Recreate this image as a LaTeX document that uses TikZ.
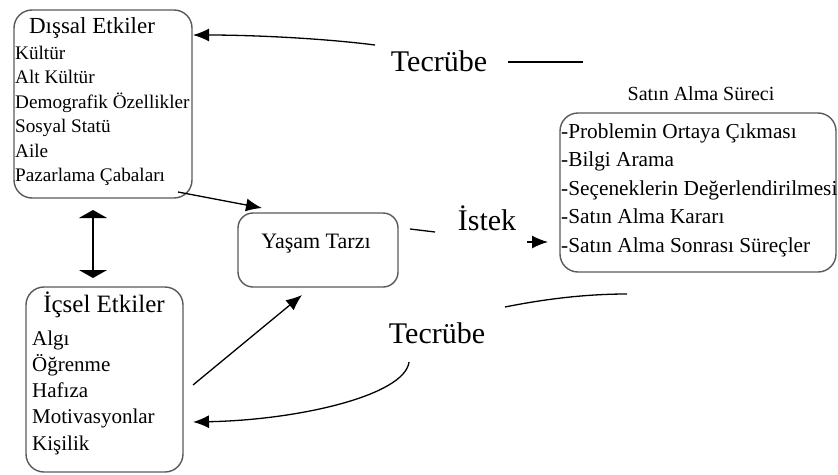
\documentclass[tikz,border=0pt]{standalone}
\usepackage{fontspec}
\setmainfont{Liberation Serif}
\usetikzlibrary{arrows.meta}
\begin{document}
\begin{tikzpicture}[x=1pt,y=-1pt,
 box/.style={draw=black!65, line width=1.4pt, rounded corners=18pt, inner sep=0pt},
 lbl/.style={anchor=base west, inner sep=0pt},
 ttl/.style={anchor=base, inner sep=0pt},
 conn/.style={line width=1.3pt, -{Latex[length=16pt,width=13pt]}},
 plain/.style={line width=1.3pt},
 dbl/.style={line width=1.6pt, {Triangle[width=28pt,length=8pt]}-{Triangle[width=28pt,length=8pt]}}]
\useasboundingbox (0,0) rectangle (838,474);
% boxes
\node[box, minimum width=178pt, minimum height=188pt] (dis) at (103,104) {};
\node[box, minimum width=157pt, minimum height=185pt] (ic) at (104.5,379.5) {};
\node[box, minimum width=160pt, minimum height=74pt, rounded corners=15pt] (yas) at (318,250) {};
\node[box, minimum width=276pt, minimum height=159pt] (sat) at (698,192.5) {};
% Dissal texts
\node[ttl, font=\fontsize{23}{26}\selectfont] (disT) at (92,33) {Dışsal Etkiler};
\foreach \t [count=\i] in {Kültür,Alt Kültür,Demografik Özellikler,Sosyal Statü,Aile,Pazarlama Çabaları}
  \node[lbl, font=\fontsize{19.2}{22}\selectfont] (dis\i) at (15,{59+24.5*(\i-1)}) {\t};
% Icsel texts
\node[ttl, font=\fontsize{25}{28}\selectfont] (icT) at (104,312) {İçsel Etkiler};
\foreach \t [count=\i] in {Algı,Öğrenme,Hafıza,Motivasyonlar,Kişilik}
  \node[lbl, font=\fontsize{21}{24}\selectfont] (ic\i) at (32,{345+26.25*(\i-1)}) {\t};
% Yasam
\node[ttl, font=\fontsize{22}{25}\selectfont] (yasT) at (316,248) {Yaşam Tarzı};
% Satin alma
\node[ttl, font=\fontsize{20}{23}\selectfont] (satT) at (701,100) {Satın Alma Süreci};
\foreach \t [count=\i] in {-Problemin Ortaya Çıkması,-Bilgi Arama,-Seçeneklerin Değerlendirilmesi,-Satın Alma Kararı,-Satın Alma Sonrası Süreçler}
  \node[lbl, font=\fontsize{21.3}{24}\selectfont] (sat\i) at (561,{138+28.5*(\i-1)}) {\t};
% free labels
\node[ttl, font=\fontsize{30}{34}\selectfont] (tec1) at (439,71) {Tecrübe};
\node[ttl, font=\fontsize{30}{34}\selectfont] (ist) at (487,230) {İstek};
\node[ttl, font=\fontsize{30}{34}\selectfont] (tec2) at (437,343) {Tecrübe};
% coordinates
\coordinate (a1s) at (375,45); \coordinate (a1e) at (193,35);
\coordinate (l1s) at (508,62); \coordinate (l1e) at (583,62);
\coordinate (a2s) at (178,192); \coordinate (a2e) at (262,208);
\coordinate (a3s) at (193,385); \coordinate (a3e) at (302,295);
\coordinate (l2s) at (410,229); \coordinate (l2e) at (435,232);
\coordinate (a4s) at (527,242); \coordinate (a4e) at (548,242);
\coordinate (l3s) at (505,307); \coordinate (l3e) at (627,294);
\coordinate (a5s) at (409,362); \coordinate (a5e) at (193,422);
\coordinate (d1) at (93,210); \coordinate (d2) at (93,278);
% connectors
\draw[conn] (a1s) .. controls (320,38) and (250,35) .. (a1e);
\draw[plain] (l1s) -- (l1e);
\draw[conn] (a2s) -- (a2e);
\draw[conn] (a3s) -- (a3e);
\draw[plain] (l2s) -- (l2e);
\draw[conn] (a4s) -- (a4e);
\draw[plain] (l3s) .. controls (550,298) and (590,294) .. (l3e);
\draw[conn] (a5s) .. controls (405,395) and (300,420) .. (a5e);
\draw[dbl] (d1) -- (d2);
\end{tikzpicture}
\end{document}
